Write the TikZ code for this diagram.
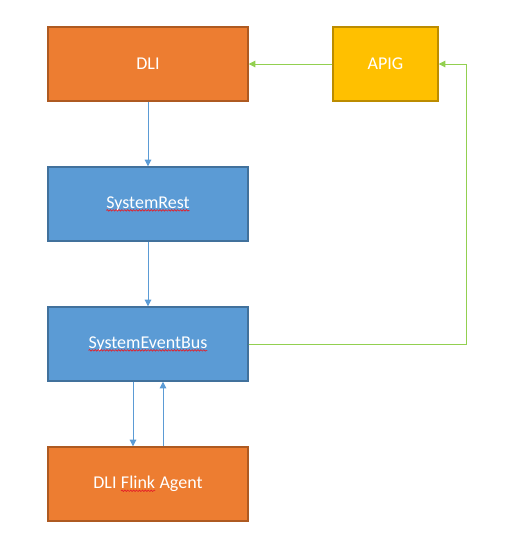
\documentclass[tikz,border=0pt]{standalone}
\usepackage{fontspec}
\setmainfont{Carlito}
\usepackage{tikz}
\usetikzlibrary{positioning,arrows.meta,decorations.pathmorphing}
\definecolor{orangefill}{RGB}{237,125,49}
\definecolor{orangeline}{RGB}{174,90,33}
\definecolor{bluefill}{RGB}{91,155,213}
\definecolor{blueline}{RGB}{65,113,156}
\definecolor{goldfill}{RGB}{255,192,0}
\definecolor{goldline}{RGB}{188,140,0}
\definecolor{greenarr}{RGB}{146,208,80}
\definecolor{squig}{RGB}{230,30,40}
\newcommand{\spellmark}[1]{\tikz[baseline=(w.base)]{\node[inner sep=0pt,outer sep=0pt,minimum width=0pt,minimum height=0pt,draw=none,fill=none,text=white] (w) {#1};
  \draw[squig,line width=0.5pt,decorate,decoration={snake,amplitude=0.55pt,segment length=2.2pt}]
    ([yshift=-1.6pt]w.base west) -- ([yshift=-1.6pt]w.base east);}}

\begin{document}
\begin{tikzpicture}[x=0.75pt,y=-0.75pt,
  box/.style={line width=1.1pt,minimum width=150pt,minimum height=55.5pt,inner sep=0pt,
    font=\fontsize{13.5}{16}\selectfont,text=white,align=center},
  orangebox/.style={box,draw=orangeline,fill=orangefill},
  bluebox/.style={box,draw=blueline,fill=bluefill},
  goldbox/.style={box,draw=goldline,fill=goldfill,minimum width=78.75pt},
  barr/.style={-{Triangle[width=5pt,length=5pt]},draw=bluefill,line width=0.75pt},
  garr/.style={-{Triangle[width=5pt,length=5pt]},draw=greenarr,line width=0.75pt}
]
\useasboundingbox (0,0) rectangle (508,551);

\node[orangebox] (dli) at (148,64) {DLI};
\node[goldbox] (apig) at (385.5,64) {APIG};
\node[bluebox] (rest) at (148,204) {\spellmark{SystemRest}};
\node[bluebox] (bus) at (148,344) {\spellmark{SystemEventBus}};
\node[orangebox] (agent) at (148,484) {DLI \spellmark{Flink} Agent};
\coordinate (turn) at (466,344);

\draw[barr] (dli) -- (rest);
\draw[barr] (rest) -- (bus);
\draw[barr] ([xshift=-11.25pt]bus.south) -- ([xshift=-11.25pt]agent.north);
\draw[barr] ([xshift=11.25pt]agent.north) -- ([xshift=11.25pt]bus.south);
\draw[garr] (apig) -- (dli);
\draw[garr] (bus.east) -- (turn) |- (apig.east);
\end{tikzpicture}
\end{document}
